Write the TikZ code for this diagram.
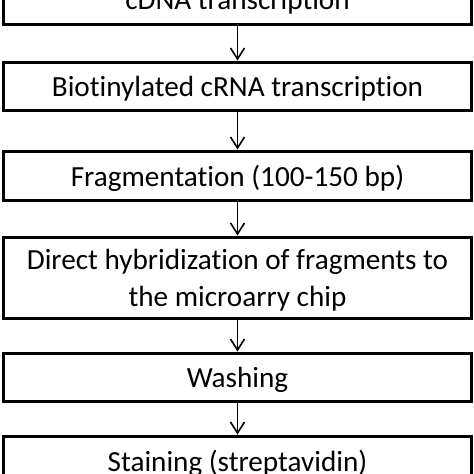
\documentclass[tikz,border=0pt]{standalone}
\usepackage{fontspec}
\setmainfont{Carlito}[Ligatures={NoCommon}]
\usetikzlibrary{arrows.meta}
\begin{document}
\begin{tikzpicture}[x=1pt,y=-1pt,
  stepbox/.style={draw=black, line width=3pt, minimum width=468pt, inner sep=0pt,
    align=center, text depth=0pt, font=\fontsize{29.2}{37}\selectfont},
  flow/.style={line width=1.6pt, -{Straight Barb[length=11pt,width=14pt,line width=1.6pt]}}]
\useasboundingbox (0,0) rectangle (474,474);
\node[stepbox, minimum height=49pt] (b1) at (237.5,-0.5) {cDNA transcription};
\node[stepbox, minimum height=48pt] (b2) at (237.5,86) {Biotinylated cRNA transcription};
\node[stepbox, minimum height=49pt] (b3) at (237.5,175.5) {Fragmentation (100-150 bp)};
\node[stepbox, minimum height=81pt] (b4) at (237.5,277.5) {Direct hybridization of fragments to\\the microarry chip};
\node[stepbox, minimum height=48.5pt] (b5) at (237.5,377.25) {Washing};
\node[stepbox, minimum height=49pt] (b6) at (237.5,460.5) {Staining (streptavidin)};
\draw[flow] (b1.south) -- (b2.north);
\draw[flow] (b2.south) -- (b3.north);
\draw[flow] (b3.south) -- (b4.north);
\draw[flow] (b4.south) -- (b5.north);
\draw[flow] (b5.south) -- (b6.north);
\end{tikzpicture}
\end{document}
